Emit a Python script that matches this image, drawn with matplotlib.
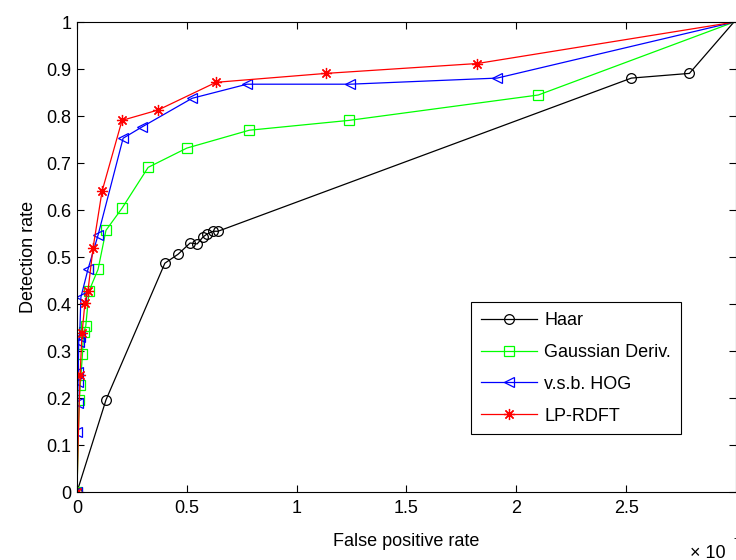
import matplotlib
matplotlib.use("Agg")
import matplotlib.pyplot as plt
from matplotlib.ticker import FormatStrFormatter

plt.rc("font", family=["Liberation Sans", "DejaVu Sans"], size=13)

# 数据（从图上读出来的，x 单位是 ×10^-3）
haar_x = [0, 0.132, 0.40, 0.46, 0.515, 0.547, 0.574, 0.592, 0.62, 0.642, 2.524, 2.788, 2.99]
haar_y = [0, 0.196, 0.487, 0.506, 0.53, 0.528, 0.543, 0.549, 0.555, 0.555, 0.881, 0.891, 1.0]

gauss_x = [0, 0.01, 0.015, 0.025, 0.03, 0.04, 0.055, 0.096, 0.132, 0.205, 0.324, 0.50, 0.784, 1.239, 2.10, 2.99]
gauss_y = [0, 0.195, 0.228, 0.294, 0.34, 0.353, 0.428, 0.474, 0.557, 0.604, 0.691, 0.732, 0.770, 0.791, 0.845, 1.0]

hog_x = [0, 0.002, 0.003, 0.005, 0.006, 0.008, 0.012, 0.018, 0.05, 0.096, 0.21, 0.296, 0.524, 0.774, 1.244, 1.913, 2.99]
hog_y = [0, 0.128, 0.19, 0.235, 0.255, 0.32, 0.33, 0.415, 0.474, 0.547, 0.753, 0.777, 0.838, 0.868, 0.868, 0.881, 1.0]

rdft_x = [0, 0.005, 0.014, 0.023, 0.036, 0.05, 0.073, 0.114, 0.205, 0.369, 0.633, 1.134, 1.822, 2.99]
rdft_y = [0, 0.1, 0.249, 0.338, 0.402, 0.428, 0.519, 0.640, 0.791, 0.813, 0.872, 0.891, 0.912, 1.0]

fig = plt.figure(figsize=(7.36, 5.6), dpi=100)
ax = fig.add_axes([0.1046, 0.1214, 0.8954, 0.839])

lw = 0.9
ax.plot(haar_x, haar_y, color="k", lw=lw, marker="o", ms=7, mfc="none", mew=0.9,
        markevery=list(range(len(haar_x) - 1)), label="Haar")
ax.plot(gauss_x, gauss_y, color="#00ff00", lw=lw, marker="s", ms=7.5, mfc="none", mew=0.9,
        markevery=list(range(len(gauss_x) - 1)), label="Gaussian Deriv.")
ax.plot(hog_x, hog_y, color="b", lw=lw, marker="<", ms=6.5, mfc="none", mew=0.9,
        markevery=list(range(len(hog_x) - 1)), label="v.s.b. HOG")
rdft_marks = [i for i in range(len(rdft_x) - 1) if i != 1]
ax.plot(rdft_x, rdft_y, color="r", lw=lw, marker=(8, 2, 0), ms=8, mfc="none", mew=0.9,
        markevery=rdft_marks, label="LP-RDFT")

ax.set_xlim(0, 3)
ax.set_ylim(0, 1)
ax.set_xticks([0, 0.5, 1, 1.5, 2, 2.5])
ax.set_yticks([i / 10 for i in range(11)])
ax.xaxis.set_major_formatter(FormatStrFormatter("%g"))
ax.yaxis.set_major_formatter(FormatStrFormatter("%g"))
ax.tick_params(direction="in", top=True, right=True, length=5, width=0.8)
ax.tick_params(axis="x", pad=6)
ax.tick_params(axis="y", pad=4)
for s in ax.spines.values():
    s.set_linewidth(0.8)

ax.set_xlabel("False positive rate", labelpad=11)
ax.set_ylabel("Detection rate", labelpad=7)

leg = ax.legend(loc="upper left", bbox_to_anchor=(0.598, 0.404), fancybox=False,
                edgecolor="k", framealpha=1, handlelength=3.1, handletextpad=0.4,
                labelspacing=0.82, borderpad=0.55, borderaxespad=0)
leg.get_frame().set_linewidth(0.8)

# 右下角的 ×10 (指数被裁掉了)
fig.text(690 / 736, 1 - 553 / 560, "× 10", ha="left", va="center")
fig.text(734 / 736, 1 - 539 / 560, "-3", ha="left", va="center", fontsize=9)

plt.savefig("out.png", dpi=100)
